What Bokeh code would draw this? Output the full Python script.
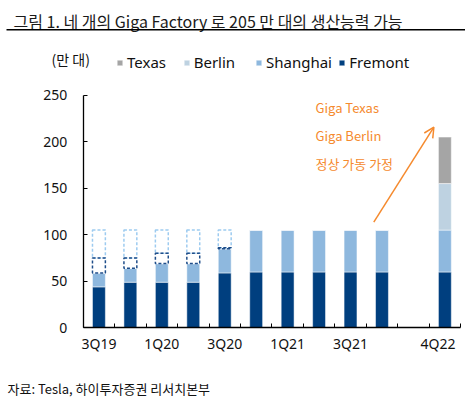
from bokeh.plotting import figure
from bokeh.models import (FixedTicker, Label, Arrow, OpenHead, Legend, LegendItem, Range1d)
from bokeh.embed import file_html
from bokeh.resources import INLINE

# ---------------- data ----------------
quarters = ["3Q19", "4Q19", "1Q20", "2Q20", "3Q20", "4Q20", "1Q21", "2Q21",
            "3Q21", "4Q21", "", "4Q22"]
fremont = [44, 49, 49, 49, 59, 60, 60, 60, 60, 60, 0, 60]
shanghai = [15, 15, 20, 20, 26, 45, 45, 45, 45, 45, 0, 45]
berlin = [0, 0, 0, 0, 0, 0, 0, 0, 0, 0, 0, 50]
texas = [0, 0, 0, 0, 0, 0, 0, 0, 0, 0, 0, 50]
# planned capacity shown as dashed outlines
planned_quarters = ["3Q19", "4Q19", "1Q20", "2Q20", "3Q20"]
planned_dark_top = [75, 75, 80, 80, 86]
planned_total = [105, 105, 105, 105, 105]
shown_labels = ["3Q19", "1Q20", "3Q20", "1Q21", "3Q21", "4Q22"]
y_ticks = [0, 50, 100, 150, 200, 250]

C_FRE = "#003F7F"
C_SHA = "#8EB8DE"
C_BER = "#BED2E1"
C_TEX = "#A5A5A5"
C_DASH_DARK = "#1F4E8A"
C_DASH_LIGHT = "#9DCBF0"
C_ORANGE = "#F58A2E"
FONT = "Noto Sans CJK KR"
LFONT = "Noto Sans"

W, H = 465, 398
# plot area geometry (pixels): axis origin and scale
X0, SLOT = 82.7, 31.45
Y0, YPX = 327.3, 0.9304
n = len(quarters)

p = figure(width=W, height=H, output_backend="svg", toolbar_location=None,
           x_range=Range1d(-X0 / SLOT, (W - X0) / SLOT),
           y_range=Range1d(-(H - Y0) / YPX, Y0 / YPX),
           min_border=0, min_border_left=0, min_border_right=0,
           min_border_top=0, min_border_bottom=0)
p.background_fill_color = "white"
p.border_fill_color = "white"
p.outline_line_color = None
p.grid.visible = False

xs = [i + 0.5 for i in range(n)]
bw = 0.41

b1 = [0] * n
t1 = [b + v for b, v in zip(b1, fremont)]
t2 = [b + v for b, v in zip(t1, shanghai)]
t3 = [b + v for b, v in zip(t2, berlin)]
t4 = [b + v for b, v in zip(t3, texas)]

r_fre = p.vbar(x=xs, width=bw, bottom=b1, top=t1, fill_color=C_FRE, line_color="white", line_width=0.5)
r_sha = p.vbar(x=xs, width=bw, bottom=t1, top=t2, fill_color=C_SHA, line_color="white", line_width=0.5)
r_ber = p.vbar(x=xs, width=bw, bottom=t2, top=t3, fill_color=C_BER, line_color="white", line_width=0.5)
r_tex = p.vbar(x=xs, width=bw, bottom=t3, top=t4, fill_color=C_TEX, line_color="white", line_width=0.5)

# dashed planned outlines
px = [quarters.index(q) + 0.5 for q in planned_quarters]
pbase = [t2[quarters.index(q)] for q in planned_quarters]
p.quad(left=[x - bw / 2 for x in px], right=[x + bw / 2 for x in px],
       bottom=planned_dark_top, top=planned_total, fill_color=None,
       line_color=C_DASH_LIGHT, line_dash="3 2", line_width=1.5)
p.quad(left=[x - bw / 2 for x in px], right=[x + bw / 2 for x in px],
       bottom=pbase, top=planned_dark_top, fill_color=None,
       line_color=C_DASH_DARK, line_dash="3 2", line_width=1.5)

# axes (drawn at fixed data locations so the whole canvas is the plot frame)
label_pos = [min(quarters.index(q) + 0.5, n - 0.72) for q in shown_labels]
xa = p.xaxis[0]
ya = p.yaxis[0]
xa.fixed_location = 0
ya.fixed_location = 0
xa.bounds = (0, n)
ya.bounds = (y_ticks[0], y_ticks[-1])
xa.ticker = FixedTicker(ticks=label_pos, minor_ticks=list(range(n + 1)))
xa.major_label_overrides = {pos: q for pos, q in zip(label_pos, shown_labels)}
xa.major_tick_in = 0
xa.major_tick_out = 0
xa.minor_tick_in = 4
xa.minor_tick_out = 0
xa.major_label_standoff = 6

ya.ticker = FixedTicker(ticks=y_ticks)
ya.major_tick_in = 4
ya.major_tick_out = 0
ya.minor_tick_in = 0
ya.minor_tick_out = 0
ya.major_label_standoff = 16

for ax in (xa, ya):
    ax.axis_line_color = "black"
    ax.axis_line_width = 1.3
    ax.major_tick_line_color = "black"
    ax.minor_tick_line_color = "black"
    ax.major_label_text_font = LFONT
    ax.major_label_text_font_size = "14px"
    ax.major_label_text_color = "#111111"

# legends (screen coords from canvas bottom-left; location = legend's bottom-left)
for name, r, lx in [("Texas", r_tex, 116), ("Berlin", r_ber, 182.7),
                    ("Shanghai", r_sha, 255), ("Fremont", r_fre, 338.3)]:
    lg = Legend(items=[LegendItem(label=name, renderers=[r])],
                location=(lx, H - 72.3), orientation="horizontal",
                glyph_width=7, glyph_height=7, label_standoff=4,
                label_text_font=LFONT, label_text_font_size="15px",
                label_text_color="#111111", label_height=18,
                padding=0, margin=0, spacing=0,
                background_fill_alpha=0, border_line_alpha=0)
    p.add_layout(lg, "center")

def screen_label(text, px_, py_, size, color="#111111", font=FONT, baseline="middle", align="left"):
    # px_, py_ are page coordinates (top-left origin)
    p.add_layout(Label(x=px_, y=H - py_, x_units="screen", y_units="screen", text=text,
                       text_font=font, text_font_size=size, text_color=color,
                       text_baseline=baseline, text_align=align))

screen_label("그림 1. 네 개의 Giga Factory 로 205 만 대의 생산능력 가능", 13, 20, "16px",
             color="#1a1a1a", baseline="alphabetic")
screen_label("(만 대)", 51, 58, "14px")
screen_label("자료: Tesla, 하이투자증권 리서치본부", 7, 388, "13px")

# title underline
p.add_layout(Arrow(x_start=6, y_start=H - 29.3, x_end=W, y_end=H - 29.3,
                   start_units="screen", end_units="screen", end=None,
                   line_color="black", line_width=1.5))

# annotation
screen_label("Giga Texas", 315, 107, "13px", color=C_ORANGE)
screen_label("Giga Berlin", 315, 135, "13px", color=C_ORANGE)
screen_label("정상 가동 가정", 315, 163, "13px", color=C_ORANGE)
p.add_layout(Arrow(x_start=9.24, y_start=113.5, x_end=11.15, y_end=215.6,
                   end=OpenHead(size=10, line_color=C_ORANGE, line_width=1.5),
                   line_color=C_ORANGE, line_width=1.5))

open("out.html", "w").write(file_html(p, INLINE))
